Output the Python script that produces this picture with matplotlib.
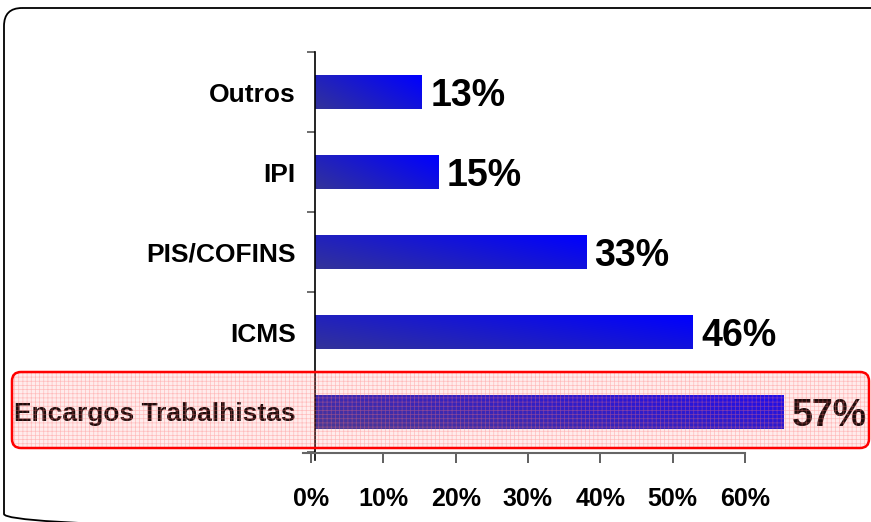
import numpy as np
import matplotlib
matplotlib.use("Agg")
import matplotlib.pyplot as plt
from matplotlib.patches import FancyBboxPatch

plt.rcParams['font.family'] = ['Liberation Sans', 'DejaVu Sans']
plt.rcParams['hatch.linewidth'] = 0.5

# data (bottom to top)
categories = ["Encargos Trabalhistas", "ICMS", "PIS/COFINS", "IPI", "Outros"]
values = [57, 46, 33, 15, 13]
tick_values = [0, 10, 20, 30, 40, 50, 60]
tick_labels = ["0%", "10%", "20%", "30%", "40%", "50%", "60%"]

W, H = 871, 522
fig = plt.figure(figsize=(W / 100, H / 100), dpi=100)

# main bar axes: 0% at x=315 px, 8.22 px per percent
ax = fig.add_axes([315 / W, 1 - 452 / H, 493 / W, 400 / H])
ax.patch.set_alpha(0)
ypos = np.arange(len(categories))
bar_h = 0.42

# diagonal gradient, dark slate blue -> pure blue
gx, gy = np.meshgrid(np.linspace(0, 1, 200), np.linspace(0, 1, 40))
t = np.clip(0.65 * gx + 0.35 * gy, 0, 1)[..., None]
c0 = np.array([0x33, 0x33, 0x99]) / 255
c1 = np.array([0x00, 0x00, 0xff]) / 255
grad = c0 * (1 - t) + c1 * t

for y, v in zip(ypos, values):
    ax.imshow(grad, extent=[0, v, y + bar_h / 2, y - bar_h / 2], aspect='auto',
              interpolation='bilinear', zorder=2)
    ax.annotate(f"{v}%", (v, y), xytext=(6, -3), textcoords='offset points',
                ha='left', va='center', fontsize=27, fontweight='bold', color='black')

ax.set_xlim(0, 60)
ax.set_ylim(-0.5, len(categories) - 0.5)
for s in ['top', 'right', 'bottom']:
    ax.spines[s].set_visible(False)
ax.spines['left'].set_color('black')
ax.spines['left'].set_linewidth(1.2)
ax.spines['left'].set_bounds(-0.6, len(categories) - 0.5)
ax.set_xticks([])
ax.set_yticks(np.arange(-0.5, len(categories), 1.0))
ax.set_yticklabels([])
ax.tick_params(axis='y', which='major', length=6, width=1.2, color='#555555')
ax.set_yticks(ypos, minor=True)
ax.set_yticklabels(categories, minor=True, fontsize=19, fontweight='bold')
ax.tick_params(axis='y', which='minor', length=0, pad=14)

# separate percentage scale below
ax2 = fig.add_axes([303 / W, 1 - 453 / H, 442 / W, 0.001])
ax2.patch.set_alpha(0)
for s in ['top', 'right', 'left']:
    ax2.spines[s].set_visible(False)
ax2.spines['bottom'].set_color('#666666')
ax2.spines['bottom'].set_linewidth(1.5)
ax2.set_xlim(-1.1, 60)
ax2.set_yticks([])
ax2.set_xticks(tick_values)
ax2.set_xticklabels(tick_labels, fontsize=18, fontweight='bold')
ax2.tick_params(axis='x', length=7.5, width=1.2, color='#444444', pad=17)

# overlay: frame and highlight box in pixel coordinates
ov = fig.add_axes([0, 0, 1, 1], zorder=10)
ov.set_xlim(0, W)
ov.set_ylim(H, 0)
ov.axis('off')
ov.patch.set_alpha(0)

frame = FancyBboxPatch((4, 8), 885, 524, boxstyle="round,pad=0,rounding_size=18",
                       fc='none', ec='black', lw=1.3)
ov.add_patch(frame)

box_kw = dict(boxstyle="round,pad=0,rounding_size=9")
ov.add_patch(FancyBboxPatch((12, 372), 857, 76, fc=(1, 0.4, 0.4, 0.12), ec='none', **box_kw))
ov.add_patch(FancyBboxPatch((12, 372), 857, 76, fc='none', ec=(1, 0.45, 0.45, 0.4),
                            lw=0, hatch='++++', **box_kw))
ov.add_patch(FancyBboxPatch((12, 372), 857, 76, fc='none', ec='#ff0000', lw=1.8, **box_kw))

fig.savefig("out.png", dpi=100)
